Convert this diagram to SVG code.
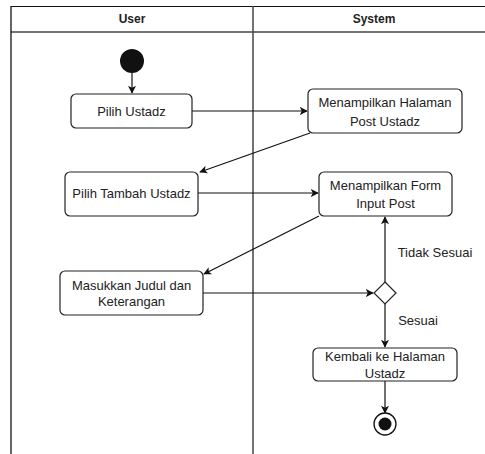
<svg xmlns="http://www.w3.org/2000/svg" width="485" height="454" viewBox="0 0 485 454">
<style>
text{font-family:"Liberation Sans",Arial,sans-serif;font-size:13px;fill:#222;text-anchor:middle;dominant-baseline:central}
.hd{font-weight:bold;font-size:12px}
.box{fill:#fff;stroke:#222;stroke-width:1.2}
.ln{fill:none;stroke:#111;stroke-width:1.2}
.lane{stroke:#444;stroke-width:1.5;fill:none}
</style>
<defs>
<marker id="ah" viewBox="0 0 10 10" refX="9" refY="5" markerWidth="8" markerHeight="8" markerUnits="userSpaceOnUse" orient="auto">
<path d="M0,0 L10,5 L0,10 L2.5,5 Z" fill="#111"/>
</marker>
</defs>
<rect width="485" height="454" fill="#fff"/>
<g id="lanes">
<line x1="11" y1="6.5" x2="485" y2="6.5" stroke="#111" stroke-width="1.2"/>
<line x1="11" y1="32" x2="485" y2="32" class="lane"/>
<line x1="11" y1="6" x2="11" y2="454" stroke="#111" stroke-width="1.3"/>
<line x1="253" y1="6" x2="253" y2="454" class="lane"/>
<text x="132" y="19" class="hd">User</text>
<text x="374" y="19" class="hd">System</text>
</g>
<g id="connectors">
<line x1="132" y1="73" x2="132" y2="93" class="ln" marker-end="url(#ah)"/>
<line x1="192" y1="111" x2="307" y2="111" class="ln" marker-end="url(#ah)"/>
<line x1="310" y1="133" x2="200" y2="172" class="ln" marker-end="url(#ah)"/>
<line x1="198" y1="193" x2="318" y2="193" class="ln" marker-end="url(#ah)"/>
<line x1="319" y1="216" x2="204" y2="274" class="ln" marker-end="url(#ah)"/>
<line x1="203" y1="293" x2="373" y2="293" class="ln" marker-end="url(#ah)"/>
<line x1="385" y1="282" x2="385" y2="217" class="ln" marker-end="url(#ah)"/>
<line x1="385" y1="304" x2="385" y2="347" class="ln" marker-end="url(#ah)"/>
<line x1="385" y1="381" x2="385" y2="413" class="ln" marker-end="url(#ah)"/>
<text x="435" y="252">Tidak Sesuai</text>
<text x="418" y="320">Sesuai</text>
</g>
<g id="start"><circle cx="132" cy="61" r="12" fill="#111"/></g>
<g id="pilih-ustadz">
<rect x="71" y="94" width="121" height="34" rx="5" class="box"/>
<text x="131.5" y="111">Pilih Ustadz</text>
</g>
<g id="menampilkan-halaman">
<rect x="308" y="89" width="154" height="44" rx="5" class="box"/>
<text x="385" y="102">Menampilkan Halaman</text>
<text x="385" y="121">Post Ustadz</text>
</g>
<g id="pilih-tambah">
<rect x="65" y="172" width="133" height="44" rx="5" class="box"/>
<text x="131.5" y="193">Pilih Tambah Ustadz</text>
</g>
<g id="menampilkan-form">
<rect x="319" y="172" width="133" height="44" rx="5" class="box"/>
<text x="385.5" y="185">Menampilkan Form</text>
<text x="385.5" y="203">Input Post</text>
</g>
<g id="masukkan">
<rect x="60" y="271" width="143" height="44" rx="5" class="box"/>
<text x="131.5" y="285">Masukkan Judul dan</text>
<text x="131.5" y="301">Keterangan</text>
</g>
<g id="decision">
<path d="M385,282 L396,293 L385,304 L374,293 Z" class="box"/>
</g>
<g id="kembali">
<rect x="313" y="348" width="144" height="33" rx="5" class="box"/>
<text x="385" y="356">Kembali ke Halaman</text>
<text x="385" y="373">Ustadz</text>
</g>
<g id="end">
<circle cx="385" cy="424" r="11" fill="#fff" stroke="#111" stroke-width="1.3"/>
<circle cx="385" cy="424" r="6.5" fill="#111"/>
</g>
</svg>
